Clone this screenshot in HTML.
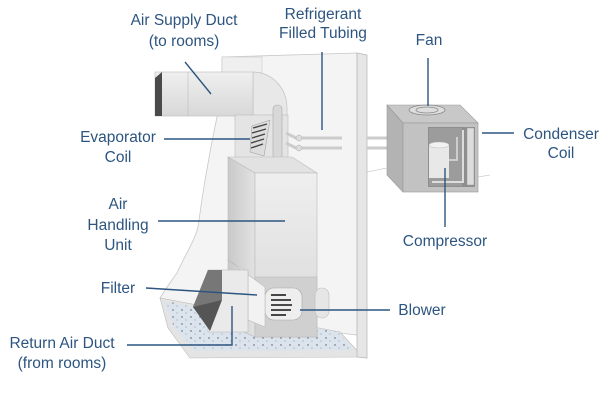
<!DOCTYPE html>
<html><head><meta charset="utf-8"><style>
html,body{margin:0;padding:0;background:#fff;width:609px;height:410px;overflow:hidden}
svg{display:block}
text{font-family:"Liberation Sans",sans-serif;font-size:15.5px;fill:#2d5580;text-anchor:middle}
</style></head><body>
<svg width="609" height="410" viewBox="0 0 609 410" xmlns="http://www.w3.org/2000/svg">
<defs>
<linearGradient id="g1" x1="0" x2="1"><stop offset="0" stop-color="#c9c9c9"/><stop offset="1" stop-color="#e2e2e2"/></linearGradient>
<linearGradient id="g3" x1="0" y1="0" x2="0" y2="1"><stop offset="0" stop-color="#efefef"/><stop offset="1" stop-color="#d8d8d8"/></linearGradient>
<pattern id="dots" width="9" height="7" patternUnits="userSpaceOnUse"><rect width="9" height="7" fill="#dbe4ec"/><circle cx="2" cy="2" r="0.7" fill="#556"/><circle cx="6" cy="5" r="0.5" fill="#778"/></pattern>
</defs>
<path d="M222,57 L357,53 L357,335 L340,333 L160,298 C168,285 172,280 177,273 C185,255 195,240 198,227 C203,190 210,150 217,117 L222,90 Z" fill="#f4f4f4" stroke="#c8c8c8" stroke-width="0.8"/>
<path d="M160,298 L340,332 L363,357 L190,358 L168,328 Z" fill="#e4e4e4" stroke="#bbb" stroke-width="0.6"/>
<path d="M164,301 L338,332 L354,350 L195,351 L174,327 Z" fill="url(#dots)"/>
<path d="M357,53 L367,55 L367,358 L357,357 Z" fill="#e6e6e6" stroke="#bbb" stroke-width="0.8"/>
<rect x="222" y="57" width="40" height="16" fill="#efefef" stroke="#ccc" stroke-width="0.6"/>
<path d="M253,72 C272,72 287,88 287,108 L287,120 L235,120 L235,116 L253,116 Z" fill="#e8e8e8" stroke="#bbb" stroke-width="0.6"/>
<rect x="155" y="72" width="98" height="44" fill="url(#g3)" stroke="#bbb" stroke-width="0.6"/>
<path d="M155,78 L162,72 L162,116 L155,116 Z" fill="#4a4a4a"/>
<line x1="188" y1="72" x2="188" y2="116" stroke="#bbb" stroke-width="0.6"/>
<rect x="235" y="115" width="53" height="43" fill="#e4e4e4" stroke="#bbb" stroke-width="0.6"/>
<path d="M252,126 L270,120 L264,156 L250,152 Z" fill="#ddd" stroke="#999" stroke-width="0.5"/>
<g stroke="#444" stroke-width="1.4"><line x1="253" y1="128" x2="267" y2="124"/><line x1="252" y1="133" x2="266" y2="129"/><line x1="252" y1="138" x2="265" y2="134"/><line x1="251" y1="143" x2="264" y2="139"/><line x1="251" y1="148" x2="263" y2="144"/></g>
<rect x="273" y="105" width="9" height="62" rx="4" fill="#d8d8d8" stroke="#aaa" stroke-width="0.6"/>
<g stroke="#ccc" stroke-width="3" fill="none"><path d="M286,133 L296,138 L342,138"/><path d="M286,143 L296,148 L342,148"/><line x1="367" y1="138" x2="396" y2="138"/><line x1="367" y1="148" x2="396" y2="148"/></g>
<circle cx="299" cy="138" r="3" fill="#ddd" stroke="#aaa" stroke-width="0.5"/><circle cx="299" cy="148" r="3" fill="#ddd" stroke="#aaa" stroke-width="0.5"/>
<path d="M228,157 L292,157 L317,173 L255,173 Z" fill="#e2e2e2" stroke="#bbb" stroke-width="0.6"/>
<path d="M228,157 L255,173 L255,337 L228,325 Z" fill="url(#g1)" stroke="#bbb" stroke-width="0.6"/>
<rect x="255" y="173" width="62" height="164" fill="url(#g3)" stroke="#bbb" stroke-width="0.6"/>
<rect x="255" y="277" width="62" height="60" fill="#d0d0d0" stroke="#bbb" stroke-width="0.6"/>
<rect x="315" y="288" width="14" height="30" rx="7" fill="#e6e6e6" stroke="#bbb" stroke-width="0.6"/>
<rect x="265" y="288" width="37" height="32" rx="9" fill="#eee" stroke="#aaa" stroke-width="0.6"/>
<g stroke="#333" stroke-width="1.8"><line x1="271" y1="295" x2="286" y2="295"/><line x1="271" y1="300" x2="291" y2="300"/><line x1="271" y1="305" x2="292" y2="305"/><line x1="271" y1="310" x2="291" y2="310"/><line x1="271" y1="315" x2="286" y2="315"/></g>
<path d="M228,260 L265,287 L265,327 L248,320 L248,272 Z" fill="#f2f2f2" stroke="#bbb" stroke-width="0.6"/>
<rect x="208" y="270" width="40" height="62" fill="#eaeaea" stroke="#bbb" stroke-width="0.6"/>
<path d="M208,270 L193,307 L210,331 L222,300 L222,270 Z" fill="#555"/>
<path d="M208,270 L193,307 L222,300 L222,270 Z" fill="#777"/>
<path d="M387,105 L460,105 L478,123 L403,123 Z" fill="#c8c8c8" stroke="#999" stroke-width="0.6"/>
<path d="M387,105 L403,123 L403,192 L387,175 Z" fill="#b3b3b3" stroke="#999" stroke-width="0.6"/>
<rect x="403" y="123" width="75" height="69" fill="#c2c2c2" stroke="#999" stroke-width="0.6"/>
<ellipse cx="427" cy="110" rx="18" ry="5" fill="#ddd" stroke="#888" stroke-width="0.8"/>
<ellipse cx="427" cy="110" rx="11" ry="3" fill="none" stroke="#888" stroke-width="0.8"/>
<rect x="428" y="127" width="47" height="60" fill="#8e8e8e"/>
<rect x="429" y="128" width="33" height="58" fill="#9c9c9c"/>
<rect x="467" y="128" width="7" height="57" fill="#ddd" stroke="#999" stroke-width="0.5"/>
<path d="M463,130 L463,182 L432,182" fill="none" stroke="#ddd" stroke-width="2"/>
<rect x="429" y="145" width="20" height="33" fill="#e8e8e8"/>
<ellipse cx="439" cy="145" rx="10" ry="3" fill="#f2f2f2" stroke="#bbb" stroke-width="0.5"/>
<path d="M449,160 L457,160 L457,137" fill="none" stroke="#ddd" stroke-width="1.5"/>
<path d="M367,172 L387,168 M478,177 L490,175" stroke="#bbb" stroke-width="0.6"/>
<g stroke="#2d5580" stroke-width="1.4" fill="none">
<line x1="185" y1="62" x2="211" y2="94"/>
<line x1="322" y1="52" x2="322" y2="130"/>
<line x1="428" y1="58" x2="428" y2="106"/>
<line x1="482" y1="133" x2="514" y2="133"/>
<line x1="164" y1="139" x2="250" y2="139"/>
<line x1="158" y1="221" x2="285" y2="221"/>
<line x1="146" y1="288" x2="257" y2="295"/>
<line x1="300" y1="310" x2="390" y2="310"/>
<path d="M127,345 L232,345 L232,306"/>
<line x1="445" y1="168" x2="445" y2="227"/>
</g>
<text x="184" y="25">Air Supply Duct</text>
<text x="184" y="46">(to rooms)</text>
<text x="323" y="19">Refrigerant</text>
<text x="323" y="38">Filled Tubing</text>
<text x="429" y="45">Fan</text>
<text x="561" y="139">Condenser</text>
<text x="561" y="158">Coil</text>
<text x="118" y="142">Evaporator</text>
<text x="118" y="162">Coil</text>
<text x="118" y="209">Air</text>
<text x="118" y="230">Handling</text>
<text x="118" y="250">Unit</text>
<text x="118" y="293">Filter</text>
<text x="422" y="315">Blower</text>
<text x="62" y="348">Return Air Duct</text>
<text x="62" y="368">(from rooms)</text>
<text x="445" y="246">Compressor</text>
</svg>
</body></html>
